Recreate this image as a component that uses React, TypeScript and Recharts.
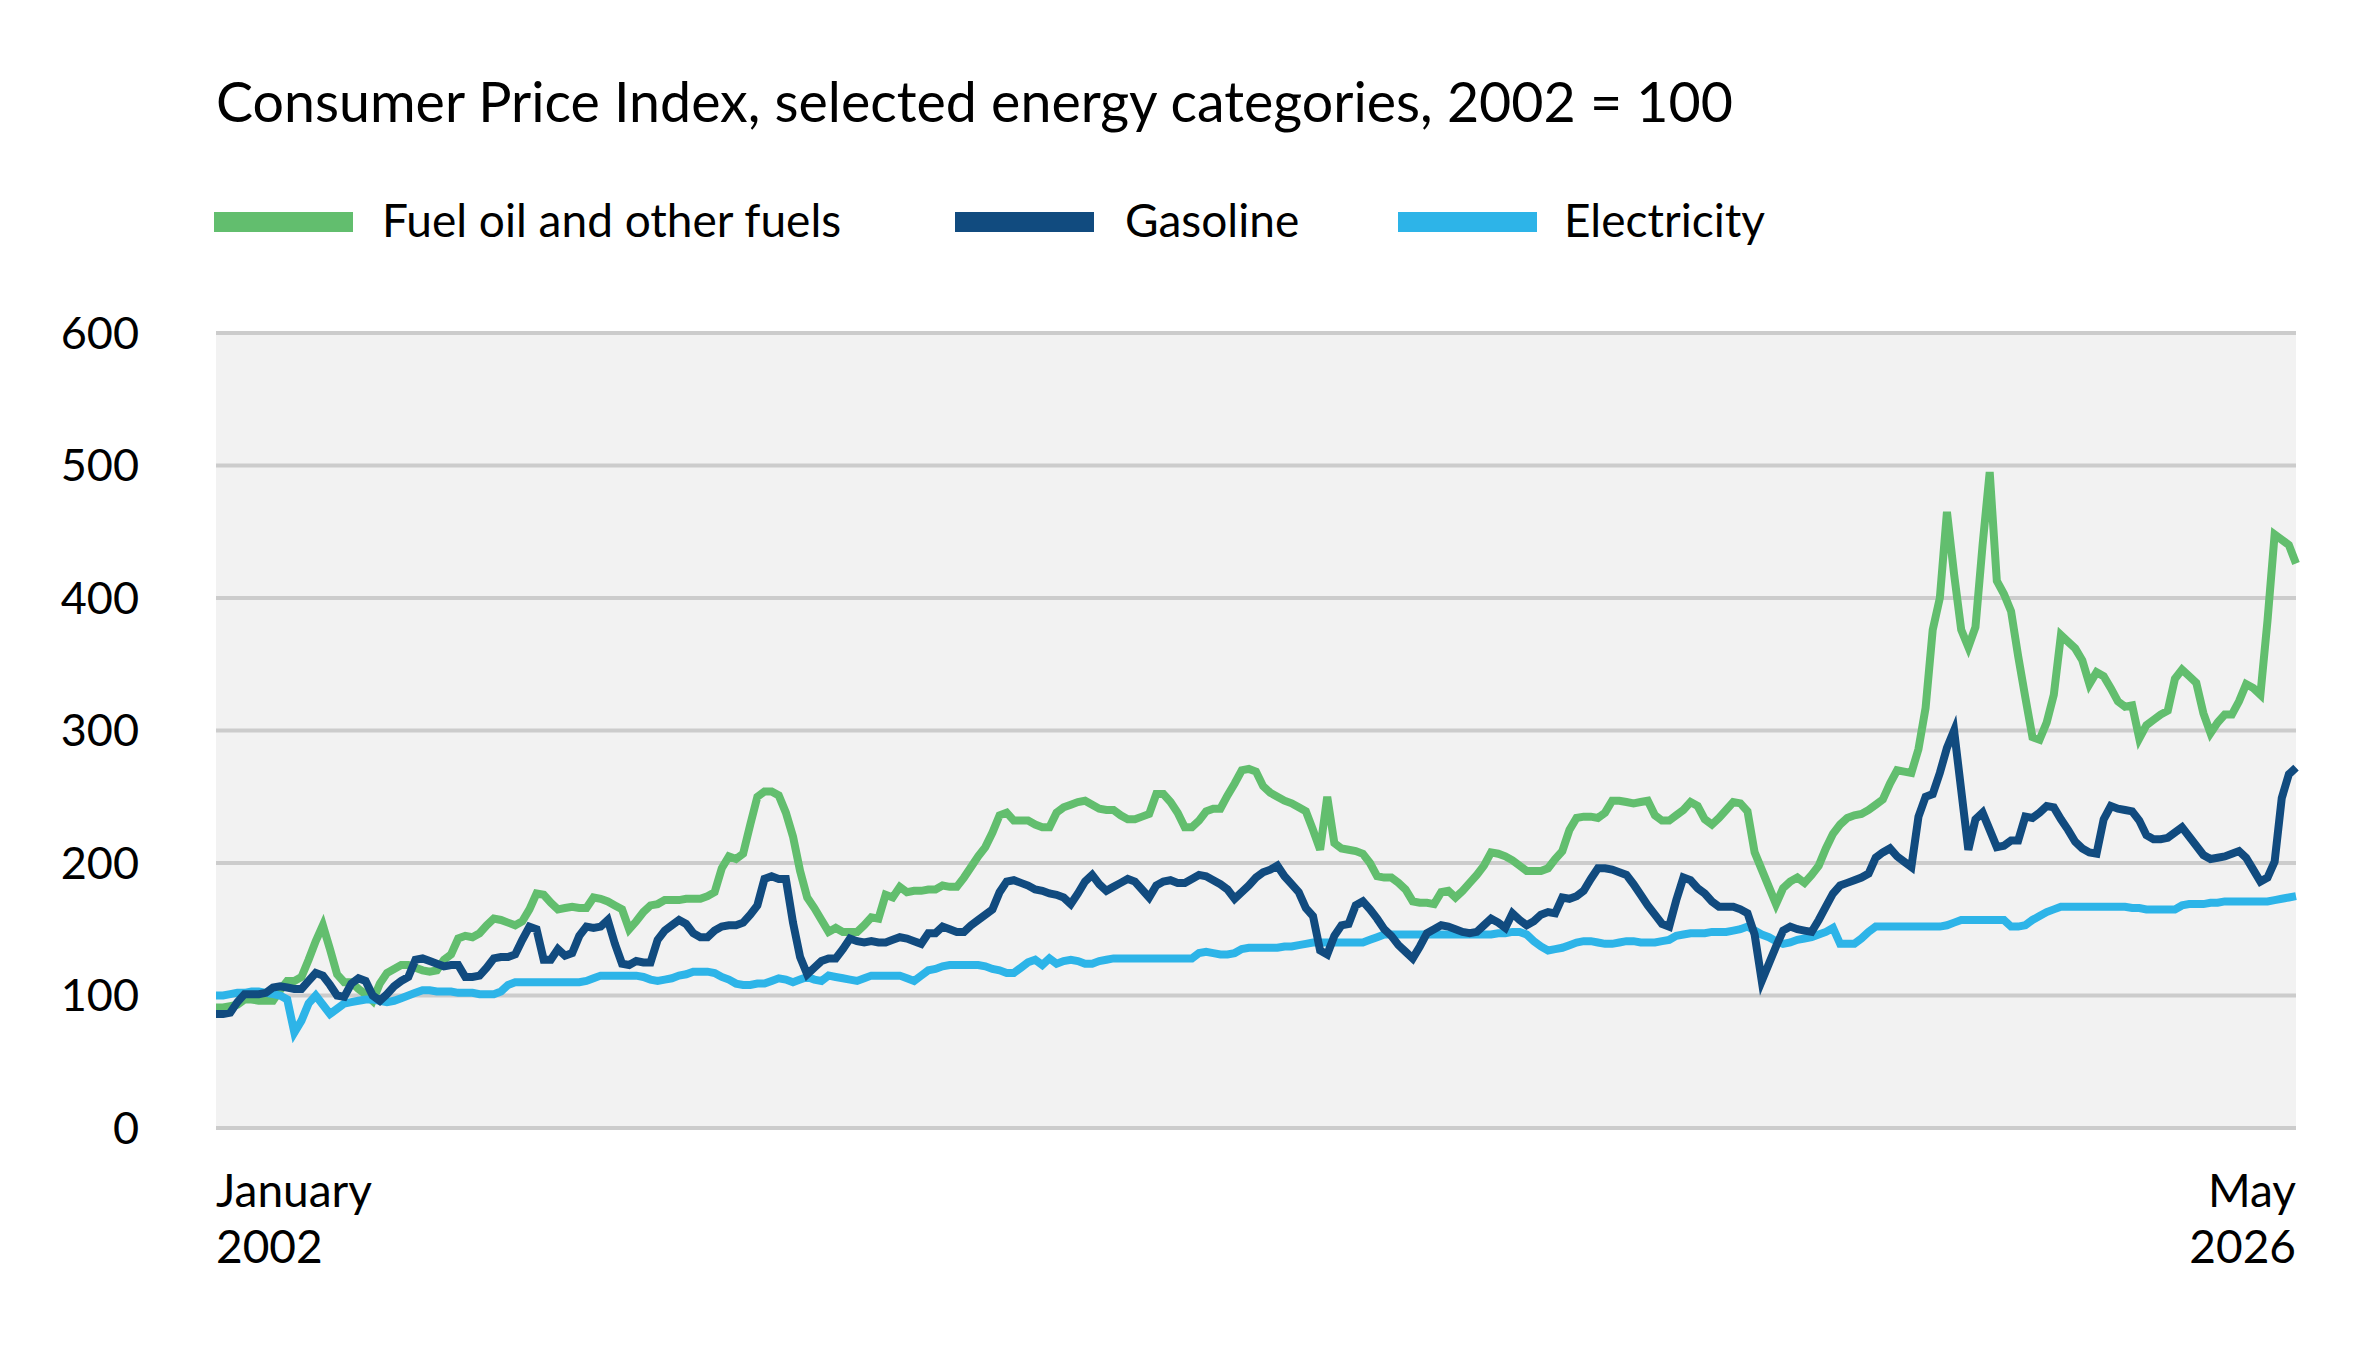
import React from "react";
import { LineChart, Line, XAxis, YAxis, CartesianGrid } from "recharts";

const FONT = "Lato, 'Open Sans', sans-serif";

const TITLE = "Consumer Price Index, selected energy categories, 2002 = 100";

const seriesNames = ["Fuel oil and other fuels", "Gasoline", "Electricity"];
const seriesColors = ["#62BE6E", "#114B7F", "#2DB4E8"];

// Monthly, January 2002 .. May 2026
const months: string[] = Array.from({ length: 293 }, (_, i) =>
  `${2002 + Math.floor(i / 12)}-${String((i % 12) + 1).padStart(2, "0")}`
);

const fuelOil = [
  91, 91, 92, 93, 97, 97, 96, 96, 96, 104, 111, 111,
  114, 127, 141, 153, 135, 116, 110, 110, 105, 101, 96, 109,
  117, 120, 123, 123, 121, 119, 118, 119, 127, 131, 143, 145,
  144, 147, 153, 158, 157, 155, 153, 156, 165, 177, 176, 170,
  165, 166, 167, 166, 166, 174, 173, 171, 168, 165, 150, 156,
  163, 168, 169, 172, 172, 172, 173, 173, 173, 175, 178, 196,
  205, 203, 207, 229, 250, 254, 254, 251, 238, 220, 194, 174,
  166, 157, 148, 151, 148, 148, 148, 153, 159, 158, 176, 174,
  182, 178, 179, 179, 180, 180, 183, 182, 182, 189, 197, 205,
  212, 223, 236, 238, 232, 232, 232, 229, 227, 227, 238, 242,
  244, 246, 247, 244, 241, 240, 240, 236, 233, 233, 235, 237,
  252, 252, 246, 238, 227, 227, 232, 239, 241, 241, 251, 260,
  270, 271, 269, 258, 253, 250, 247, 245, 242, 239, 225, 210,
  250, 215, 211, 210, 209, 207, 200, 190, 189, 189, 185, 180,
  171, 170, 170, 169, 178, 179, 174, 179, 185, 191, 198, 208,
  207, 205, 202, 198, 194, 194, 194, 196, 203, 209, 225, 234,
  235, 235, 234, 238, 247, 247, 246, 245, 246, 247, 236, 232,
  232, 236, 240, 246, 243, 233, 229, 234, 240, 246, 245, 239,
  208, 195, 182, 169, 181, 186, 189, 185, 191, 198, 211, 222,
  229, 234, 236, 237, 240, 244, 248, 260, 270, 269, 268, 286,
  317, 376, 400, 465, 418, 376, 363, 378, 440, 495, 413, 403,
  390, 356, 325, 295, 293, 306, 327, 372, 367, 362, 353, 335,
  344, 341, 332, 322, 318, 319, 294, 304, 308, 312, 315, 339,
  346, 341, 336, 313, 298, 306, 312, 312, 322, 335, 332, 327,
  383, 448, 444, 440, 426,
];

const gasoline = [
  86, 86, 87, 95, 101, 101, 101, 102, 106, 107, 106, 105,
  105, 111, 117, 115, 108, 100, 99, 109, 113, 111, 100, 96,
  101, 107, 111, 114, 127, 128, 126, 124, 122, 123, 123, 114,
  114, 115, 121, 128, 129, 129, 131, 142, 152, 150, 127, 127,
  135, 130, 132, 145, 152, 151, 152, 157, 139, 124, 123, 126,
  125, 125, 142, 149, 153, 157, 154, 147, 144, 144, 149, 152,
  153, 153, 155, 161, 168, 188, 190, 188, 188, 155, 129, 116,
  121, 126, 128, 128, 135, 143, 141, 140, 141, 140, 140, 142,
  144, 143, 141, 139, 147, 147, 152, 150, 148, 148, 153, 157,
  161, 165, 178, 186, 187, 185, 183, 180, 179, 177, 176, 174,
  169, 177, 186, 191, 184, 179, 182, 185, 188, 186, 180, 174,
  183, 186, 187, 185, 185, 188, 191, 190, 187, 184, 180, 173,
  178, 183, 189, 193, 195, 198, 190, 184, 178, 166, 160, 134,
  131, 145, 153, 154, 168, 171, 165, 158, 150, 145, 138, 133,
  128, 137, 147, 150, 153, 152, 150, 148, 147, 148, 153, 158,
  155, 151, 162, 157, 153, 156, 161, 163, 162, 174, 173, 175,
  179, 188, 196, 196, 195, 193, 191, 184, 176, 168, 161, 154,
  152, 172, 189, 187, 181, 177, 171, 167, 167, 167, 165, 162,
  146, 111, 124, 137, 149, 152, 150, 149, 148, 157, 167, 177,
  183, 185, 187, 189, 192, 204, 208, 211, 205, 201, 197, 235,
  250, 252, 268, 287, 300, 255, 210, 233, 238, 225, 212, 213,
  217, 217, 235, 234, 238, 243, 242, 233, 225, 216, 211, 208,
  207, 233, 243, 241, 240, 239, 232, 221, 218, 218, 219, 223,
  227, 220, 213, 206, 203, 204, 205, 207, 209, 204, 195, 186,
  189, 201, 249, 267, 272,
];

const electricity = [
  100, 100, 101, 102, 102, 103, 103, 102, 101, 100, 97, 72,
  81, 94, 100, 93, 86, 90, 94, 95, 96, 97, 97, 96,
  95, 96, 98, 100, 102, 104, 104, 103, 103, 103, 102, 102,
  102, 101, 101, 101, 103, 108, 110, 110, 110, 110, 110, 110,
  110, 110, 110, 110, 111, 113, 115, 115, 115, 115, 115, 115,
  114, 112, 111, 112, 113, 115, 116, 118, 118, 118, 117, 114,
  112, 109, 108, 108, 109, 109, 111, 113, 112, 110, 112, 114,
  112, 111, 115, 114, 113, 112, 111, 113, 115, 115, 115, 115,
  115, 113, 111, 115, 119, 120, 122, 123, 123, 123, 123, 123,
  122, 120, 119, 117, 117, 121, 125, 127, 123, 128, 124, 126,
  127, 126, 124, 124, 126, 127, 128, 128, 128, 128, 128, 128,
  128, 128, 128, 128, 128, 128, 132, 133, 132, 131, 131, 132,
  135, 136, 136, 136, 136, 136, 137, 137, 138, 139, 140, 140,
  140, 140, 140, 140, 140, 140, 142, 144, 146, 146, 146, 146,
  146, 146, 146, 146, 146, 146, 146, 146, 146, 146, 146, 146,
  147, 147, 148, 148, 146, 141, 137, 134, 135, 136, 138, 140,
  141, 141, 140, 139, 139, 140, 141, 141, 140, 140, 140, 141,
  142, 145, 146, 147, 147, 147, 148, 148, 148, 149, 150, 152,
  149, 146, 144, 141, 139, 140, 142, 143, 144, 146, 148, 151,
  139, 139, 139, 143, 148, 152, 152, 152, 152, 152, 152, 152,
  152, 152, 152, 153, 155, 157, 157, 157, 157, 157, 157, 157,
  152, 152, 153, 157, 160, 163, 165, 167, 167, 167, 167, 167,
  167, 167, 167, 167, 167, 166, 166, 165, 165, 165, 165, 165,
  168, 169, 169, 169, 170, 170, 171, 171, 171, 171, 171, 171,
  171, 172, 173, 174, 175,
];

const yTicks = [0, 100, 200, 300, 400, 500, 600];
const xTicks = ["2002-01", "2026-05"];
const xTickLabels: Record<string, string[]> = {
  "2002-01": ["January", "2002"],
  "2026-05": ["May", "2026"],
};

const data = months.map((m, i) => ({
  month: m,
  fuel: fuelOil[i],
  gas: gasoline[i],
  elec: electricity[i],
}));

const XTick = (props: any) => {
  const { x, y, payload } = props;
  const lines = xTickLabels[payload.value] || [];
  const anchor = payload.value === xTicks[0] ? "start" : "end";
  return (
    <g>
      {lines.map((t, k) => (
        <text
          key={k}
          x={x}
          y={y + 79 + k * 56}
          textAnchor={anchor}
          fill="#000"
          fontSize={46}
          fontFamily={FONT}
        >
          {t}
        </text>
      ))}
    </g>
  );
};

const legendItems = [
  { name: seriesNames[0], color: seriesColors[0], sx: 214, tx: 382 },
  { name: seriesNames[1], color: seriesColors[1], sx: 955, tx: 1125 },
  { name: seriesNames[2], color: seriesColors[2], sx: 1398, tx: 1564 },
];

export default function App() {
  return (
    <div
      style={{
        position: "absolute",
        left: 0,
        top: 0,
        width: 2353,
        height: 1358,
        background: "#fff",
        fontFamily: FONT,
      }}
    >
      <svg
        width={2353}
        height={300}
        style={{ position: "absolute", left: 0, top: 0 }}
      >
        <text x={216} y={122} fontSize={55.5} fill="#000" fontFamily={FONT}>
          {TITLE}
        </text>
        {legendItems.map((it) => (
          <g key={it.name}>
            <rect x={it.sx} y={212} width={139} height={20} fill={it.color} />
            <text x={it.tx} y={237} fontSize={46} fill="#000" fontFamily={FONT}>
              {it.name}
            </text>
          </g>
        ))}
      </svg>
      <div style={{ position: "absolute", left: 0, top: 0 }}>
        <LineChart
          width={2353}
          height={1358}
          data={data}
          margin={{ top: 333, right: 57, bottom: 100, left: 0 }}
        >
          <CartesianGrid
            vertical={false}
            stroke="#cccccc"
            strokeWidth={4}
            fill="#f2f2f2"
          />
          <XAxis
            dataKey="month"
            ticks={xTicks}
            interval={0}
            tick={<XTick />}
            tickLine={false}
            axisLine={false}
            tickSize={0}
            tickMargin={0}
            height={130}
          />
          <YAxis
            domain={[0, 600]}
            ticks={yTicks}
            tickLine={false}
            axisLine={false}
            tickSize={0}
            tickMargin={77}
            width={216}
            tick={{ fill: "#000", fontSize: 45, fontFamily: FONT }}
          />
          <Line
            type="linear"
            dataKey="fuel"
            name={seriesNames[0]}
            stroke={seriesColors[0]}
            strokeWidth={8}
            dot={false}
            isAnimationActive={false}
          />
          <Line
            type="linear"
            dataKey="elec"
            name={seriesNames[2]}
            stroke={seriesColors[2]}
            strokeWidth={8}
            dot={false}
            isAnimationActive={false}
          />
          <Line
            type="linear"
            dataKey="gas"
            name={seriesNames[1]}
            stroke={seriesColors[1]}
            strokeWidth={8}
            dot={false}
            isAnimationActive={false}
          />
        </LineChart>
      </div>
    </div>
  );
}
